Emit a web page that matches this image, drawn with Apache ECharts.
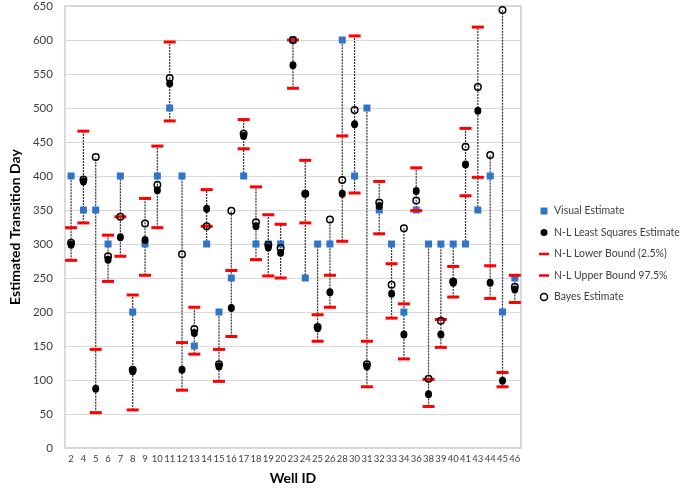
<!DOCTYPE html>
<html><head><meta charset="utf-8">
<script src="https://cdn.jsdelivr.net/npm/echarts@6/dist/echarts.min.js"></script>
<style>html,body{margin:0;padding:0;background:#fff}#c{width:685px;height:490px}</style>
</head><body><div id="c"></div>
<script>
const wells = ['2','4','5','6','7','8','9','10','11','12','13','14','15','16','17','18','19','20','23','24','25','26','28','30','31','32','33','34','36','38','39','40','41','43','44','45','46'];
const visual = [400,350,350,300,400,200,300,400,500,400,150,300,200,250,400,300,300,300,600,250,300,300,600,400,500,350,300,200,350,300,300,300,300,350,400,200,250];
const nls    = [299,392,87,277,310,113,306,379,536,115,169,352,120,206,459,326,295,287,563,374,176,229,374,476,120,356,227,167,378,79,167,243,417,496,243,99,233];
const lower  = [276,331,52,245,282,56,254,324,481,85,138,326,98,164,440,277,253,250,529,331,157,207,304,375,90,315,191,131,349,61,148,222,371,398,220,90,214];
const upper  = [324,466,145,313,340,225,367,444,597,155,207,380,145,261,483,384,343,329,600,423,196,254,459,606,157,392,271,212,412,101,189,267,470,619,268,111,254];
const bayes  = [302,395,428,282,340,115,330,387,544,285,175,326,123,349,462,332,299,294,600,374,178,336,394,497,123,361,240,323,364,102,187,245,443,531,431,644,237];
const yTicks = {min:0, max:650, step:50};

const FONT = 'Lato';
const ranges = wells.map((w,i)=>{
  const v=[visual[i],nls[i],lower[i],upper[i],bayes[i]];
  return [i, Math.min(...v), Math.max(...v)];
});
const chart = echarts.init(document.getElementById('c'));
const option = {
  animation:false,
  grid:{left:52,right:164,top:5,bottom:38,show:true,borderColor:'#d9d9d9',borderWidth:2},
  xAxis:{type:'category',data:wells,boundaryGap:true,axisLine:{show:false},axisTick:{show:false},
    axisLabel:{interval:0,fontSize:9.5,color:'#404040',margin:6,fontFamily:FONT},
    name:'Well ID',nameLocation:'middle',nameGap:23,
    nameTextStyle:{fontSize:14,fontWeight:'bold',color:'#000',fontFamily:FONT},splitLine:{show:false}},
  yAxis:{type:'value',min:yTicks.min,max:yTicks.max,interval:yTicks.step,axisLine:{show:false},axisTick:{show:false},
    axisLabel:{fontSize:11.5,color:'#404040',margin:12,fontFamily:FONT},
    splitLine:{lineStyle:{color:'#d9d9d9',width:1}},
    name:'Estimated Transition Day',nameLocation:'middle',nameGap:38,
    nameTextStyle:{fontSize:14,fontWeight:'bold',color:'#000',fontFamily:FONT}},
  legend:{orient:'vertical',left:534,top:199,itemGap:7.5,itemWidth:10,itemHeight:7,
    textStyle:{fontSize:10.5,color:'#404040',fontFamily:FONT,lineHeight:14},
    data:[
      {name:'Visual Estimate',icon:'path://M0,0L1,0L1,1L0,1Z'},
      {name:'N-L Least Squares Estimate',icon:'circle'},
      {name:'N-L Lower Bound (2.5%)',icon:'path://M0,0L4,0L4,1L0,1Z'},
      {name:'N-L Upper Bound 97.5%',icon:'path://M0,0L4,0L4,1L0,1Z'},
      {name:'Bayes Estimate',icon:'circle',itemStyle:{color:'rgba(0,0,0,0)',borderColor:'#000',borderWidth:1.5}}
    ]},
  series:[
    {type:'custom',silent:true,z:1,data:ranges,encode:{x:0,y:[1,2]},
      renderItem:(params,api)=>{
        const x=api.value(0);
        const p1=api.coord([x,api.value(1)]), p2=api.coord([x,api.value(2)]);
        return {type:'line',shape:{x1:p1[0],y1:p1[1],x2:p2[0],y2:p2[1]},
          style:{stroke:'#333',lineWidth:1.2,lineDash:[2,1]}};
      }},
    {name:'Visual Estimate',type:'scatter',data:visual,symbol:'rect',symbolSize:7,itemStyle:{color:'#2e75c7',opacity:1},z:2},
    {name:'N-L Least Squares Estimate',type:'scatter',data:nls,symbol:'circle',symbolSize:[7,8],itemStyle:{color:'#000',opacity:1},z:3},
    {name:'N-L Lower Bound (2.5%)',type:'scatter',data:lower,symbol:'rect',symbolSize:[12,3],itemStyle:{color:'#ff0000',opacity:1},z:4},
    {name:'N-L Upper Bound 97.5%',type:'scatter',data:upper,symbol:'rect',symbolSize:[12,3],itemStyle:{color:'#ff0000',opacity:1},z:5},
    {name:'Bayes Estimate',type:'scatter',data:bayes,symbol:'circle',symbolSize:6.5,itemStyle:{color:'rgba(0,0,0,0)',borderColor:'#000',borderWidth:1.5,opacity:1},z:6}
  ]
};
chart.setOption(option);
</script></body></html>
